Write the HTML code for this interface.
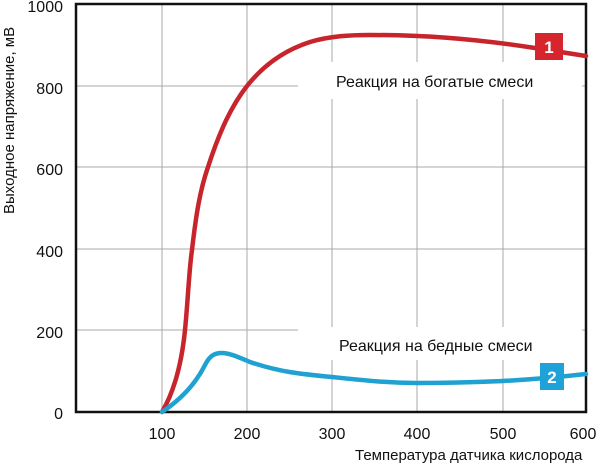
<!DOCTYPE html>
<html><head><meta charset="utf-8"><style>
body{margin:0;background:#fff;}
svg{display:block;font-family:"Liberation Sans",sans-serif;}
</style></head><body>
<svg width="600" height="470" viewBox="0 0 600 470">
<g stroke="#a8a8a8" stroke-width="1">
<line x1="162" y1="4" x2="162" y2="412"/>
<line x1="247" y1="4" x2="247" y2="412"/>
<line x1="332" y1="4" x2="332" y2="412"/>
<line x1="417" y1="4" x2="417" y2="412"/>
<line x1="503" y1="4" x2="503" y2="412"/>
<line x1="76" y1="86" x2="586" y2="86"/>
<line x1="76" y1="167" x2="586" y2="167"/>
<line x1="76" y1="249" x2="586" y2="249"/>
<line x1="76" y1="330" x2="586" y2="330"/>
</g>
<rect x="298" y="62" width="284" height="37" fill="#fff"/>
<rect x="298" y="327" width="284" height="33" fill="#fff"/>
<rect x="76" y="4" width="510" height="408" fill="none" stroke="#111" stroke-width="2.5"/>
<path d="M162,412 C175,390 182,360 185,330 C188,300 189,270 192,250 C196,215 200,190 208,167 C220,130 232,105 247,86 C262,67 282,51 310,42 C330,36 350,35 370,35 C420,35 470,38 535,48 L586,56" fill="none" stroke="#c8242c" stroke-width="4.5" stroke-linecap="round"/>
<path d="M162,412 C180,400 195,385 205,365 C210,355 215,353 222,353 C230,353 240,358 250,362 C280,372 300,374 332,377 C370,381 390,383 417,383 C450,383 480,382 503,381 C540,379 560,377 586,374" fill="none" stroke="#1fa2d2" stroke-width="4.5" stroke-linecap="round"/>
<rect x="535" y="33" width="28" height="27" fill="#d7252e"/>
<text x="549" y="53" fill="#fff" font-size="17" font-weight="bold" text-anchor="middle">1</text>
<rect x="540" y="363" width="24" height="27" fill="#1fa2d8"/>
<text x="552" y="383" fill="#fff" font-size="17" font-weight="bold" text-anchor="middle">2</text>
<text x="336" y="87" font-size="16" fill="#111">Реакция на богатые смеси</text>
<text x="339" y="351" font-size="16" fill="#111">Реакция на бедные смеси</text>
<g font-size="16" fill="#111" text-anchor="end">
<text x="63" y="12">1000</text>
<text x="63" y="94">800</text>
<text x="63" y="175">600</text>
<text x="63" y="257">400</text>
<text x="63" y="338">200</text>
<text x="63" y="419">0</text>
</g>
<g font-size="16" fill="#111" text-anchor="middle">
<text x="162" y="439">100</text>
<text x="247" y="439">200</text>
<text x="332" y="439">300</text>
<text x="417" y="439">400</text>
<text x="503" y="439">500</text>
<text x="583" y="439">600</text>
</g>
<text x="355" y="460" font-size="15" fill="#111">Температура датчика кислорода</text>
<text transform="translate(14,214) rotate(-90)" font-size="15" fill="#111">Выходное напряжение, мВ</text>
</svg>
</body></html>
